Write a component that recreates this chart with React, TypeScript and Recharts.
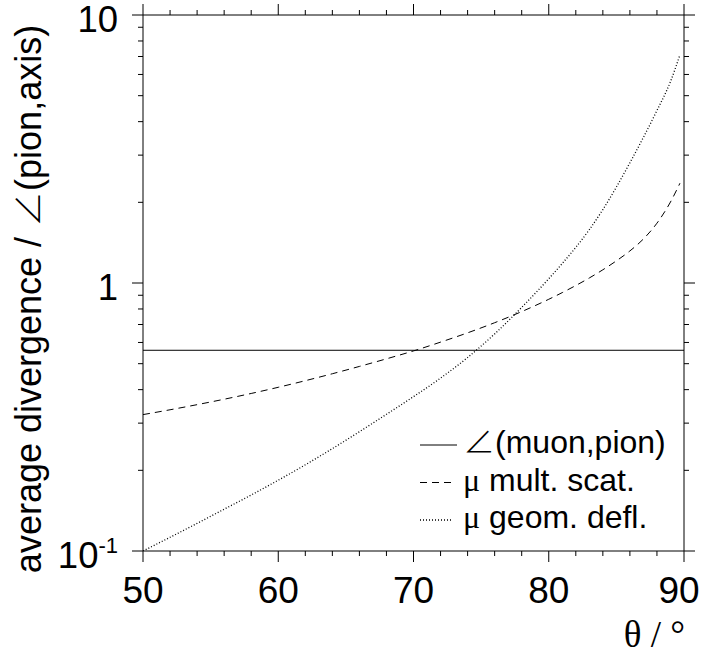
import React from 'react';
import { LineChart, Line, XAxis, YAxis, Legend } from 'recharts';

// ---- data ----
const THETA = [50, 52, 54, 56, 58, 60, 62, 64, 66, 68, 70, 72, 74, 76, 78, 80, 81, 82, 83, 84, 85, 86, 87, 88, 89, 89.7];
const MULT_SCAT = [0.3228, 0.3365, 0.3516, 0.3684, 0.3871, 0.4082, 0.432, 0.4586, 0.4883, 0.5212, 0.5579, 0.6017, 0.6517, 0.7109, 0.7822, 0.8695, 0.9209, 0.9786, 1.0442, 1.1202, 1.2096, 1.3173, 1.4597, 1.6717, 2.0055, 2.3567];
const GEOM_DEFL = [0.1, 0.1125, 0.1268, 0.1432, 0.1618, 0.1837, 0.2097, 0.241, 0.2786, 0.3236, 0.3767, 0.4416, 0.5272, 0.6457, 0.811, 1.0375, 1.183, 1.3583, 1.5812, 1.8793, 2.2803, 2.8093, 3.4954, 4.4005, 5.6429, 7.1];
const MUON_PION_THETA = [50, 90];
const MUON_PION = [0.561, 0.561];

const X_TICKS = [50, 52, 54, 56, 58, 60, 62, 64, 66, 68, 70, 72, 74, 76, 78, 80, 82, 84, 86, 88, 90];
const X_MAJOR = [50, 60, 70, 80, 90];
const Y_TICKS = [0.1, 0.2, 0.3, 0.4, 0.5, 0.6, 0.7, 0.8, 0.9, 1, 2, 3, 4, 5, 6, 7, 8, 9, 10];
const Y_MAJOR = [0.1, 1, 10];
const Y_LABEL_BASE = ['10', '1', '10'];
const Y_LABEL_EXP = ['-1', '', ''];

const SERIES_NAMES = ['∠(muon,pion)', 'μ mult. scat.', 'μ geom. defl.'];
const SERIES_DASH = ['', '7 5', '1 2'];
const SERIES_WIDTH = [1, 1, 1.3];
const SERIES_SAMPLE_LEN = [37, 33, 33];

const X_TITLE = 'θ / °';
const Y_TITLE_A = 'average divergence / ';
const Y_TITLE_B = '∠';
const Y_TITLE_C = '(pion,axis)';

const SANS = '"Liberation Sans", Arial, "DejaVu Sans", sans-serif';
const SERIF = '"Liberation Serif", "Times New Roman", "DejaVu Serif", serif';
const ANGLE_FONT = '"Noto Sans CJK JP", "DejaVu Sans", sans-serif';

const toRows = (xs: number[], ys: number[]) => xs.map((t, i) => ({ theta: t, value: ys[i] }));
const muonPionData = toRows(MUON_PION_THETA, MUON_PION);
const multScatData = toRows(THETA, MULT_SCAT);
const geomDeflData = toRows(THETA, GEOM_DEFL);

const MAJOR_LEN = 11;
const MINOR_LEN = 5;

function BottomTick(props: any) {
  const { x, y, payload } = props;
  const v = payload.value;
  const major = X_MAJOR.includes(v);
  return (
    <g>
      <line x1={x} x2={x} y1={y} y2={y + (major ? MAJOR_LEN : MINOR_LEN)} stroke="#000" strokeWidth={1} />
      {major && (
        <text x={x + (v === 90 ? -5 : 0)} y={y + 52} textAnchor="middle" fontSize={37} fontFamily={SANS} fill="#000">
          {v}
        </text>
      )}
    </g>
  );
}

function TopTick(props: any) {
  const { x, y, payload } = props;
  const major = X_MAJOR.includes(payload.value);
  return <line x1={x} x2={x} y1={y} y2={y - (major ? MAJOR_LEN : MINOR_LEN)} stroke="#000" strokeWidth={1} />;
}

function LeftTick(props: any) {
  const { x, y, payload } = props;
  const idx = Y_MAJOR.findIndex((m) => Math.abs(m - payload.value) < 1e-9);
  const major = idx >= 0;
  return (
    <g>
      <line x1={x - (major ? MAJOR_LEN : MINOR_LEN)} x2={x} y1={y} y2={y} stroke="#000" strokeWidth={1} />
      {major && (
        <text x={x - 25} y={y + 17} textAnchor="end" fontSize={36.5} fontFamily={SANS} fill="#000">
          {Y_LABEL_BASE[idx]}
          {Y_LABEL_EXP[idx] && (
            <tspan fontSize={22} dy={-15}>
              {Y_LABEL_EXP[idx]}
            </tspan>
          )}
        </text>
      )}
    </g>
  );
}

function RightTick(props: any) {
  const { x, y, payload } = props;
  const major = Y_MAJOR.some((m) => Math.abs(m - payload.value) < 1e-9);
  return <line x1={x} x2={x + (major ? MAJOR_LEN : MINOR_LEN)} y1={y} y2={y} stroke="#000" strokeWidth={1} />;
}

function renderName(name: string) {
  if (name.startsWith('μ')) {
    return (
      <>
        <tspan fontFamily={SERIF}>μ</tspan>
        {name.slice(1)}
      </>
    );
  }
  if (name.startsWith('∠')) {
    return (
      <>
        <tspan fontFamily={ANGLE_FONT} fontWeight={300}>∠</tspan>
        {name.slice(1)}
      </>
    );
  }
  return name;
}

function LegendContent() {
  return (
    <svg width={280} height={140} style={{ display: 'block', overflow: 'visible' }}>
      {SERIES_NAMES.map((name, i) => {
        const ly = 40 + i * 37.5;
        return (
          <g key={i}>
            <line
              x1={0}
              x2={SERIES_SAMPLE_LEN[i]}
              y1={ly}
              y2={ly}
              stroke="#000"
              strokeWidth={SERIES_WIDTH[i]}
              strokeDasharray={SERIES_DASH[i] || undefined}
            />
            <text x={43} y={ly + 8} fontSize={32} fontFamily={SANS} fill="#000">
              {renderName(name)}
            </text>
          </g>
        );
      })}
    </svg>
  );
}

function XTitle(props: any) {
  const vb = props.viewBox || { x: 0, y: 0, width: 0, height: 0 };
  return (
    <text x={vb.x + vb.width + 1} y={vb.y + 96} textAnchor="end" fontSize={37} fontFamily={SERIF} fill="#000">
      {X_TITLE}
    </text>
  );
}

function YTitle(props: any) {
  const vb = props.viewBox || { x: 0, y: 0, width: 0, height: 0 };
  const cx = vb.x + 41;
  const cy = vb.y + vb.height / 2 + 16;
  return (
    <text x={cx} y={cy} transform={`rotate(-90 ${cx} ${cy})`} textAnchor="middle" fontSize={36} fontFamily={SANS} fill="#000">
      {Y_TITLE_A}
      <tspan fontFamily={ANGLE_FONT} fontWeight={300}>{Y_TITLE_B}</tspan>
      {Y_TITLE_C}
    </text>
  );
}

export default function App() {
  return (
    <div style={{ position: 'absolute', left: 0, top: 0, width: 704, height: 655, background: '#fff' }}>
      <LineChart width={704} height={655} margin={{ top: 0, right: 0, bottom: 0, left: 0 }}>
        <XAxis
          xAxisId="bottom"
          dataKey="theta"
          type="number"
          domain={[50, 90]}
          allowDataOverflow
          ticks={X_TICKS}
          interval={0}
          tick={<BottomTick />}
          tickLine={false}
          tickSize={0}
          tickMargin={0}
          axisLine={{ stroke: '#000', strokeWidth: 1 }}
          height={104}
          label={<XTitle />}
        />
        <XAxis
          xAxisId="top"
          orientation="top"
          dataKey="theta"
          type="number"
          domain={[50, 90]}
          allowDataOverflow
          ticks={X_TICKS}
          interval={0}
          tick={<TopTick />}
          tickLine={false}
          tickSize={0}
          tickMargin={0}
          axisLine={{ stroke: '#000', strokeWidth: 1 }}
          height={15}
        />
        <YAxis
          yAxisId="left"
          scale="log"
          type="number"
          domain={[0.1, 10]}
          allowDataOverflow
          ticks={Y_TICKS}
          interval={0}
          tick={<LeftTick />}
          tickLine={false}
          tickSize={0}
          tickMargin={0}
          axisLine={{ stroke: '#000', strokeWidth: 1 }}
          width={143}
          label={<YTitle />}
        />
        <YAxis
          yAxisId="right"
          orientation="right"
          scale="log"
          type="number"
          domain={[0.1, 10]}
          allowDataOverflow
          ticks={Y_TICKS}
          interval={0}
          tick={<RightTick />}
          tickLine={false}
          tickSize={0}
          tickMargin={0}
          axisLine={{ stroke: '#000', strokeWidth: 1 }}
          width={20}
        />
        <Line
          xAxisId="top"
          yAxisId="right"
          data={muonPionData}
          dataKey="value"
          name={SERIES_NAMES[0]}
          stroke="#000"
          strokeWidth={SERIES_WIDTH[0]}
          dot={false}
          activeDot={false}
          type="linear"
          isAnimationActive={false}
        />
        <Line
          xAxisId="bottom"
          yAxisId="left"
          data={multScatData}
          dataKey="value"
          name={SERIES_NAMES[1]}
          stroke="#000"
          strokeWidth={SERIES_WIDTH[1]}
          strokeDasharray={SERIES_DASH[1]}
          dot={false}
          activeDot={false}
          type="monotone"
          isAnimationActive={false}
        />
        <Line
          xAxisId="bottom"
          yAxisId="left"
          data={geomDeflData}
          dataKey="value"
          name={SERIES_NAMES[2]}
          stroke="#000"
          strokeWidth={SERIES_WIDTH[2]}
          strokeDasharray={SERIES_DASH[2]}
          dot={false}
          activeDot={false}
          type="monotone"
          isAnimationActive={false}
        />
        <Legend
          layout="vertical"
          align="center"
          verticalAlign="middle"
          content={<LegendContent />}
          wrapperStyle={{ left: 420, top: 405, width: 280, height: 140 }}
        />
      </LineChart>
    </div>
  );
}
